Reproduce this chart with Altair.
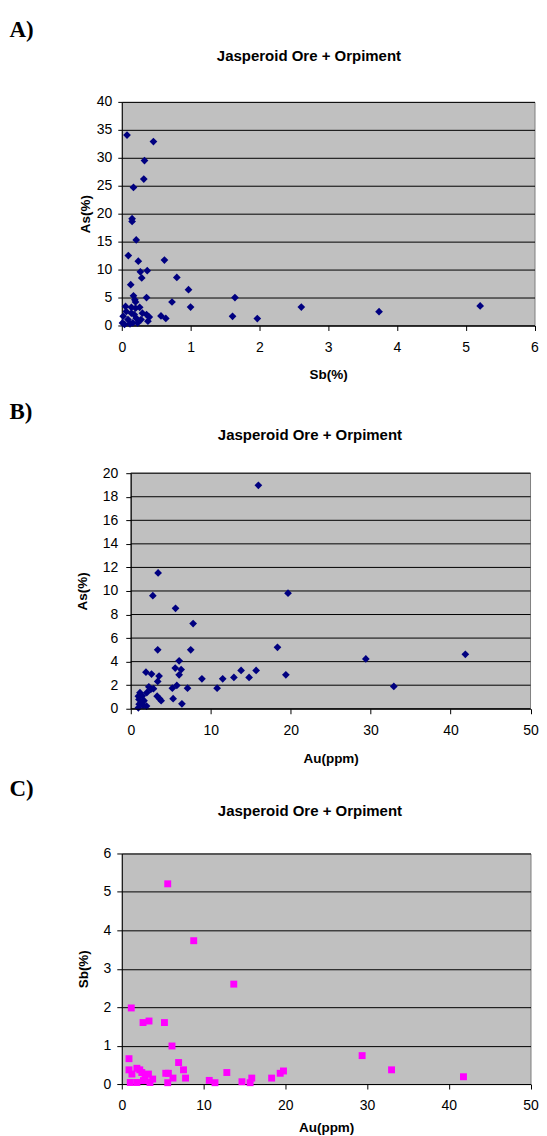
import altair as alt
import pandas as pd

TITLE = "Jasperoid Ore + Orpiment"

# ---- Panel A: Sb(%) vs As(%) ----
sb_a = [1.645, 1.61, 1.97, 2.61, 3.74, 5.21,
        0.076, 0.46, 0.33, 0.32, 0.17, 0.15, 0.15, 0.21, 0.095, 0.24, 0.62, 0.27, 0.37, 0.29,
        0.80, 0.13, 0.97, 0.17, 0.19, 0.20, 0.36, 0.73, 1.00, 0.57, 0.64,
        0.055, 0.14, 0.20, 0.26, 0.30, 0.36, 0.40, 0.38, 0.28, 0.23, 0.16, 0.09, 0.02, 0.01,
        0.065, 0.14, 0.18, 0.04, 0.12, 0.21]
as_a = [5.0, 1.64, 1.24, 3.3, 2.47, 3.5,
        34.06, 32.9, 29.5, 26.2, 24.7, 19.1, 18.6, 15.3, 12.5, 11.5, 11.7, 9.6, 9.8, 8.5,
        8.6, 7.3, 6.4, 5.3, 4.6, 4.2, 5.0, 4.2, 3.3, 1.7, 1.25,
        3.4, 3.25, 3.1, 3.25, 2.2, 1.95, 1.5, 0.76, 1.06, 0.46, 0.46, 1.06, 1.65, 0.46,
        2.5, 2.2, 1.95, 0.18, 0.3, 1.3]

# ---- Panel B: Au(ppm) vs As(%) ----
au_b = [3.42, 2.76, 5.6, 7.8, 3.37, 7.5, 6.05, 1.9, 2.6, 5.56, 6.3, 6.05, 3.54, 3.37,
        8.9, 11.5, 10.8, 12.9, 13.8, 14.8, 15.68, 7.1, 5.76, 5.2, 5.3, 6.4, 2.26, 2.5,
        2.84, 2.0, 3.3, 3.6, 3.8, 1.15, 0.95, 1.03, 1.36, 1.56, 1.97, 0.95,
        15.96, 19.67, 18.35, 19.4, 29.4, 32.9, 41.85, 1.66, 1.05, 1.45]
as_b = [11.53, 9.6, 8.53, 7.23, 5.0, 5.0, 4.07, 3.1, 2.94, 3.45, 3.33, 2.88, 2.77, 2.32,
        2.54, 2.54, 1.75, 2.66, 3.25, 2.66, 3.25, 1.75, 1.98, 1.75, 0.85, 0.42, 1.86, 1.64,
        1.7, 1.36, 1.07, 0.85, 0.68, 1.36, 1.07, 0.79, 0.5, 0.28, 0.23, 0.08,
        18.97, 9.81, 5.22, 2.88, 4.23, 1.89, 4.62, 0.68, 0.39, 1.1]

# ---- Panel C: Au(ppm) vs Sb(%) ----
au_c = [5.62, 8.8, 13.7, 1.16, 2.6, 3.33, 5.22, 6.14, 0.88, 6.95, 7.55, 0.88, 7.8, 12.85,
        10.7, 11.4, 14.7, 15.7, 15.9, 5.38, 5.7, 5.62, 6.26, 2.2,
        1.85, 2.45, 1.24, 3.26, 1.04, 1.85, 2.65, 3.45, 3.78, 2.85,
        18.33, 19.38, 19.78, 29.4, 33.0, 41.8]
sb_c = [5.21, 3.73, 2.6, 1.98, 1.6, 1.64, 1.6, 0.99, 0.66, 0.56, 0.37, 0.37, 0.155, 0.3,
        0.095, 0.035, 0.06, 0.035, 0.155, 0.28, 0.28, 0.035, 0.155, 0.37,
        0.41, 0.3, 0.26, 0.26, 0.04, 0.04, 0.09, 0.04, 0.13, 0.2,
        0.155, 0.28, 0.34, 0.74, 0.37, 0.19]

ticks_sb = [0, 1, 2, 3, 4, 5, 6]
ticks_as_a = [0, 5, 10, 15, 20, 25, 30, 35, 40]
ticks_au = [0, 10, 20, 30, 40, 50]
ticks_as_b = [0, 2, 4, 6, 8, 10, 12, 14, 16, 18, 20]
ticks_sb_c = [0, 1, 2, 3, 4, 5, 6]

SANS = "Liberation Sans"
SERIF = "Liberation Serif"
BG = "#C0C0C0"
BORDER = "#808080"


def panel(xs, ys, xname, yname, xdom, xticks, ydom, yticks, mark, w, h,
          label, lab_xy, title_xy, frame, ytick, ylpad, ytpad, xtpad, inset=0):
    df = pd.DataFrame({xname: xs, yname: ys})
    common = dict(domainColor="black", tickColor="black",
                  labelFont=SANS, labelFontSize=14, labelColor="black",
                  labelFlush=False, labelOverlap=False,
                  titleFont=SANS, titleFontSize=13.5, titleFontWeight="bold",
                  titleColor="black")
    if inset:
        common["zindex"] = 1
    xaxis = alt.Axis(values=xticks, title=xname, grid=False, tickSize=5,
                     labelPadding=10, titlePadding=xtpad, **common)
    yextra = {"offset": -inset} if inset else {}
    yaxis = alt.Axis(values=yticks, title=yname, grid=(inset == 0), gridColor="black",
                     gridOpacity=1, gridWidth=1, tickSize=ytick, labelPadding=ylpad,
                     titlePadding=ytpad, **yextra, **common)
    if inset:
        xscale = alt.Scale(domain=xdom, range=[inset, w], nice=False, zero=False)
    else:
        xscale = alt.Scale(domain=xdom, nice=False, zero=False)
    yscale = alt.Scale(domain=ydom, nice=False, zero=False)
    X = alt.X(f"{xname}:Q", scale=xscale, axis=xaxis)
    Y = alt.Y(f"{yname}:Q", scale=yscale, axis=yaxis)

    layers = []
    fr = alt.Chart(pd.DataFrame({"f": [0]})).mark_rect(
        fill="white", fillOpacity=0, strokeOpacity=0
    ).encode(x=alt.value(frame[0]), x2=alt.value(frame[1]),
             y=alt.value(frame[2]), y2=alt.value(frame[3]))
    layers.append(fr)
    if inset:
        # plot-area background, starting at the inset y-axis
        bg = alt.Chart(pd.DataFrame({"f": [0]})).mark_rect(
            fill=BG, stroke=BORDER, strokeWidth=1
        ).encode(x=alt.value(inset), x2=alt.value(w), y=alt.value(0), y2=alt.value(h))
        grid = alt.Chart(pd.DataFrame({yname: yticks})).mark_rule(
            color="black", strokeWidth=1
        ).encode(y=Y, x=alt.value(inset), x2=alt.value(w))
        layers += [bg, grid]
    pts = alt.Chart(df).mark_point(**mark).encode(x=X, y=Y)
    layers.append(pts)
    lab = alt.Chart(pd.DataFrame({"t": [label]})).mark_text(
        font=SERIF, fontSize=23, fontWeight="bold", align="left",
        baseline="middle", color="black"
    ).encode(text="t:N", x=alt.value(lab_xy[0]), y=alt.value(lab_xy[1]))
    tit = alt.Chart(pd.DataFrame({"t": [TITLE]})).mark_text(
        font=SANS, fontSize=15, fontWeight="bold", align="center",
        baseline="middle", color="black"
    ).encode(text="t:N", x=alt.value(title_xy[0]), y=alt.value(title_xy[1]))
    layers += [lab, tit]
    ch = alt.layer(*layers).properties(width=w, height=h)
    if inset:
        ch = ch.properties(view=alt.ViewBackground(fill="transparent", stroke="transparent"))
    return ch


diamond = dict(shape="diamond", filled=True, size=60, color="#000080", opacity=1, strokeWidth=0)
square = dict(shape="square", filled=True, size=48, color="#FF00FF", opacity=1, strokeWidth=0)

# plot origin of every panel sits at page x = 121.5; frame spans page x 8..539
FR_X = (-113.5, 417.5)

A = panel(sb_a, as_a, "Sb(%)", "As(%)", [0, 6], ticks_sb, [0, 40], ticks_as_a, diamond,
          413.5, 224, "A)", (-112.5, -72), (187.5, -46), FR_X + (-92, 290),
          4, 6, 4, 13)
B = panel(au_b, as_b, "Au(ppm)", "As(%)", [0, 50], ticks_au, [0, 20], ticks_as_b, diamond,
          409.5, 236, "B)", (-112.5, -61), (188.5, -38.3), FR_X + (-80, 298),
          5, 8, 13, 13.5, inset=9)
C = panel(au_c, sb_c, "Au(ppm)", "Sb(%)", [0, 50], ticks_au, [0, 6], ticks_sb_c, square,
          409.5, 231, "C)", (-112.5, -65), (188.5, -42.5), FR_X + (-81, 287),
          5, 6, 12.5, 8)

chart = alt.concat(A, B, C, columns=1, spacing=0, bounds="full").properties(
    padding=0
).configure_view(fill=BG, stroke=BORDER, strokeWidth=1)

chart.save("out.html", embed_options={"renderer": "svg", "actions": False})
